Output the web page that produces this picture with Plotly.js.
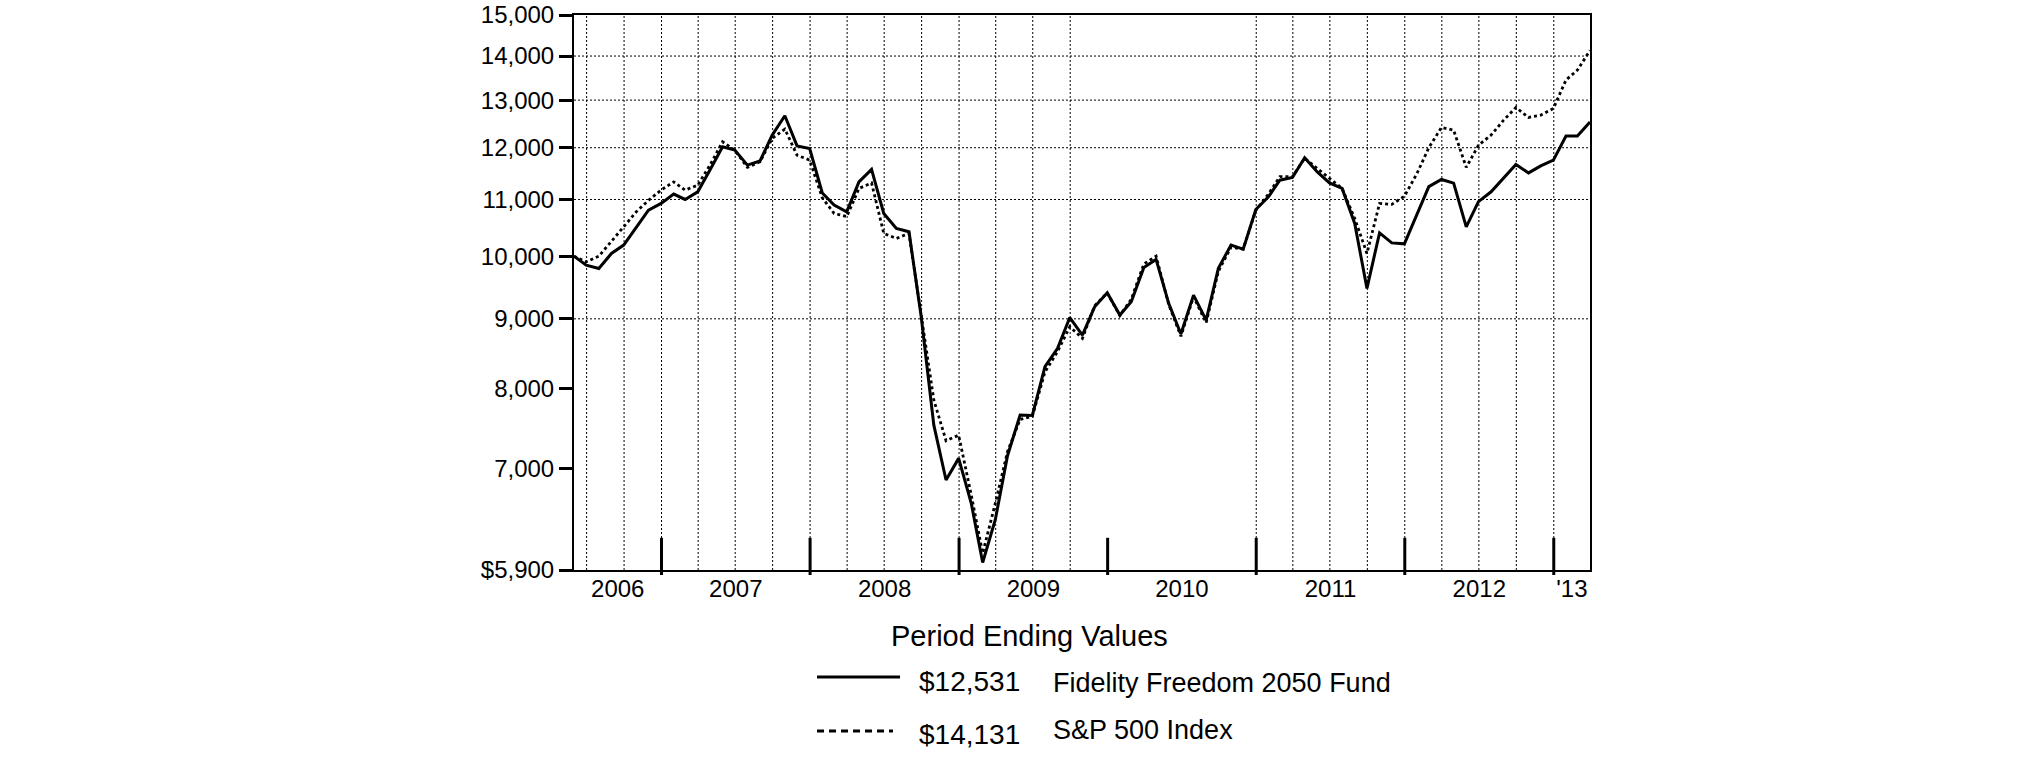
<!DOCTYPE html>
<html>
<head>
<meta charset="utf-8">
<script src="https://cdn.plot.ly/plotly-3.0.1.min.js"></script>
<style>
html, body { margin: 0; padding: 0; background: #ffffff; }
#chart { width: 2025px; height: 783px; }
</style>
</head>
<body>
<div id="chart"></div>
<script>
// ---------------- DATA ----------------
const startDate = '2006-05-31';
const endDate = '2013-03-31';
const fundName = 'Fidelity Freedom 2050 Fund';
const indexName = 'S&P 500 Index';
const fundEnding = '$12,531';
const indexEnding = '$14,131';
const legendTitle = 'Period Ending Values';

// month-end values, May 31 2006 .. Mar 31 2013 (83 points)
const fundValues = [
  10000, 9850, 9795, 10046, 10188, 10505, 10804, 10927, 11100, 11000,
  11143, 11557, 12020, 11952, 11654, 11735, 12258, 12662, 12037, 11985,
  11120, 10897, 10774, 11330, 11570, 10745, 10476, 10418, 9031, 7527,
  6864, 7118, 6599, 5975, 6420, 7150, 7656, 7650, 8305, 8565,
  9020, 8758, 9183, 9403, 9057, 9262, 9813, 9945, 9237, 8773,
  9366, 8981, 9797, 10188, 10118, 10817, 11050, 11363, 11415, 11798,
  11522, 11311, 11206, 10566, 9473, 10399, 10226, 10210, 10715, 11240,
  11376, 11306, 10505, 10960, 11143, 11400, 11667, 11503, 11640, 11753,
  12237, 12237, 12531
];
const indexValues = [
  10000, 9906, 10000, 10245, 10505, 10774, 10985, 11175, 11330, 11175,
  11268, 11654, 12120, 11952, 11610, 11720, 12190, 12383, 11850, 11753,
  11030, 10745, 10687, 11206, 11310, 10390, 10302, 10390, 9031, 7852,
  7332, 7401, 6692, 6069, 6599, 7200, 7600, 7640, 8230, 8520,
  8880, 8710, 9200, 9400, 9050, 9300, 9870, 10000, 9220, 8740,
  9340, 8940, 9750, 10150, 10120, 10800, 11100, 11430, 11430, 11790,
  11588, 11395, 11206, 10654, 10046, 10927, 10910, 11060, 11493, 12000,
  12415, 12360, 11610, 12050, 12258, 12570, 12840, 12626, 12676, 12819,
  13447, 13672, 14131
];

const yTickValues = [5900, 7000, 8000, 9000, 10000, 11000, 12000, 13000, 14000, 15000];
const yTickLabels = ['$5,900', '7,000', '8,000', '9,000', '10,000', '11,000', '12,000', '13,000', '14,000', '15,000'];
const yGridValues = [9000, 11000, 12000, 13000, 14000];
const yearLabelYears = [2006, 2007, 2008, 2009, 2010, 2011, 2012, 2013];
const yearLabels = ['2006', '2007', '2008', '2009', '2010', '2011', '2012', "'13"];
const yearTickYears = [2007, 2008, 2009, 2010, 2011, 2012, 2013];
const gridSkipYear = 2010;

// ---------------- HELPERS ----------------
function fmt(ms) { return new Date(ms).toISOString().replace('T', ' ').slice(0, 19); }
const startMs = Date.parse(startDate + 'T00:00:00Z');
const endMs = Date.parse(endDate + 'T00:00:00Z');

// month-end dates for the data points
const dates = fundValues.map(function (_, k) {
  return fmt(Date.UTC(2006, 5 + k, 0));
});

// label positions: centre of the visible part of each year
const labelPos = yearLabelYears.map(function (y) {
  const a = Math.max(startMs, Date.UTC(y, 0, 1));
  const b = Math.min(endMs, Date.UTC(y + 1, 0, 1));
  return fmt((a + b) / 2);
});

const yMin = Math.log10(yTickValues[0]);
const yMax = Math.log10(yTickValues[yTickValues.length - 1]);
function yPaper(v) { return (Math.log10(v) - yMin) / (yMax - yMin); }

const shapes = [];
// vertical dotted quarter grid lines
for (let y = 2006; y <= 2013; y++) {
  if (y === gridSkipYear) continue;
  [0, 3, 6, 9].forEach(function (m) {
    const t = Date.UTC(y, m, 1);
    if (t > startMs && t < endMs) {
      shapes.push({ type: 'line', layer: 'below', xref: 'x', yref: 'paper',
        x0: fmt(t), x1: fmt(t), y0: 0, y1: 1,
        line: { color: '#000', width: 1, dash: '2px,2px' } });
    }
  });
}
// horizontal dotted grid lines
yGridValues.forEach(function (v) {
  shapes.push({ type: 'line', layer: 'below', xref: 'paper', yref: 'paper',
    x0: 0, x1: 1, y0: yPaper(v), y1: yPaper(v),
    line: { color: '#000', width: 1, dash: '2px,2px' } });
});
// thick year boundary ticks
yearTickYears.forEach(function (y) {
  const t = fmt(Date.UTC(y, 0, 1));
  shapes.push({ type: 'line', layer: 'above', xref: 'x', yref: 'paper',
    x0: t, x1: t, y0: -0.009, y1: 0.058,
    line: { color: '#000', width: 3 } });
});
// legend samples
shapes.push({ type: 'line', xref: 'paper', yref: 'paper',
  x0: 0.2392, x1: 0.3209, y0: -0.1928, y1: -0.1928,
  line: { color: '#000', width: 3 } });
shapes.push({ type: 'line', xref: 'paper', yref: 'paper',
  x0: 0.2392, x1: 0.3140, y0: -0.2901, y1: -0.2901,
  line: { color: '#000', width: 3, dash: '7px,5px' } });

const FONT = '"Liberation Sans", Arial, Helvetica, sans-serif';
const annotations = [
  { text: legendTitle, xref: 'paper', yref: 'paper', x: 0.4488, y: -0.1189,
    xanchor: 'center', yanchor: 'middle', showarrow: false, font: { size: 29, family: FONT, color: '#000' } },
  { text: fundEnding, xref: 'paper', yref: 'paper', x: 0.3376, y: -0.2018,
    xanchor: 'left', yanchor: 'middle', showarrow: false, font: { size: 28, family: FONT, color: '#000' } },
  { text: fundName, xref: 'paper', yref: 'paper', x: 0.4695, y: -0.2036,
    xanchor: 'left', yanchor: 'middle', showarrow: false, font: { size: 27, family: FONT, color: '#000' } },
  { text: indexEnding, xref: 'paper', yref: 'paper', x: 0.3376, y: -0.2955,
    xanchor: 'left', yanchor: 'middle', showarrow: false, font: { size: 28, family: FONT, color: '#000' } },
  { text: indexName, xref: 'paper', yref: 'paper', x: 0.4695, y: -0.2880,
    xanchor: 'left', yanchor: 'middle', showarrow: false, font: { size: 27, family: FONT, color: '#000' } }
];

const traces = [
  { type: 'scatter', mode: 'lines', name: indexName, x: dates, y: indexValues,
    line: { color: '#000', width: 2.8, dash: 'dot' }, hoverinfo: 'skip' },
  { type: 'scatter', mode: 'lines', name: fundName, x: dates, y: fundValues,
    line: { color: '#000', width: 3 }, hoverinfo: 'skip' }
];

const layout = {
  width: 2025, height: 783,
  margin: { l: 574, r: 435, t: 15, b: 213, pad: 0 },
  paper_bgcolor: '#ffffff', plot_bgcolor: '#ffffff',
  font: { family: FONT, color: '#000' },
  showlegend: false,
  xaxis: {
    type: 'date', range: [startDate, endDate], tickmode: 'array',
    tickvals: labelPos, ticktext: yearLabels, ticks: '', showgrid: false,
    zeroline: false, showline: true, linecolor: '#000', linewidth: 2, mirror: true,
    tickfont: { size: 24, family: FONT, color: '#000' }, ticklabelstandoff: -4
  },
  yaxis: {
    type: 'log', range: [yMin, yMax], tickmode: 'array',
    tickvals: yTickValues, ticktext: yTickLabels, ticks: 'outside',
    ticklen: 13, tickwidth: 3, tickcolor: '#000', showgrid: false, zeroline: false,
    showline: true, linecolor: '#000', linewidth: 2, mirror: true,
    tickfont: { size: 24, family: FONT, color: '#000' }, ticklabelstandoff: 0
  },
  shapes: shapes,
  annotations: annotations
};

Plotly.newPlot('chart', traces, layout, { staticPlot: true, displayModeBar: false });
</script>
</body>
</html>
